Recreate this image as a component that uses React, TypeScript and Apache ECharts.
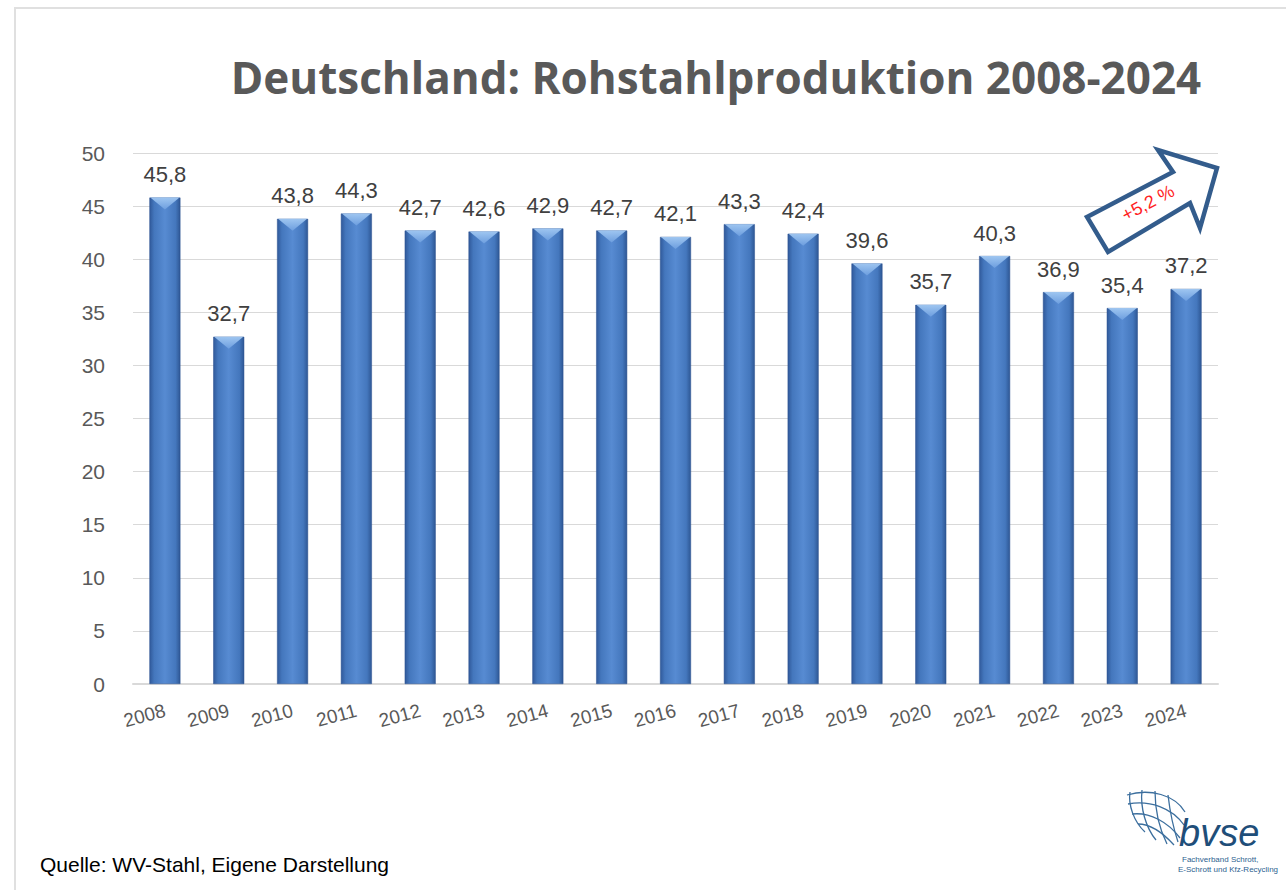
import React, { useEffect, useRef } from "react";
import * as echarts from "echarts";

const years = ["2008","2009","2010","2011","2012","2013","2014","2015","2016","2017","2018","2019","2020","2021","2022","2023","2024"];
const production = [45.8,32.7,43.8,44.3,42.7,42.6,42.9,42.7,42.1,43.3,42.4,39.6,35.7,40.3,36.9,35.4,37.2];
const titleText = "Deutschland: Rohstahlproduktion 2008-2024";
const sourceText = "Quelle: WV-Stahl, Eigene Darstellung";
const changeText = "+5,2 %";

export default function App() {
  const ref = useRef<HTMLDivElement>(null);
  useEffect(() => {
    document.body.style.margin = "0";
    const chart = echarts.init(ref.current!, null, { renderer: "svg" });
    const barGrad = new echarts.graphic.LinearGradient(0, 0, 1, 0, [
      { offset: 0, color: "#30599a" },
      { offset: 0.15, color: "#4477bd" },
      { offset: 0.5, color: "#578bd2" },
      { offset: 0.85, color: "#4477bd" },
      { offset: 1, color: "#2e5794" },
    ]);
    const capGrad = new echarts.graphic.LinearGradient(0, 0, 0, 1, [
      { offset: 0, color: "#a7cdf5" },
      { offset: 1, color: "#6fa0e0" },
    ]);
    chart.setOption({
      animation: false,
      backgroundColor: "#ffffff",
      title: {
        text: titleText,
        left: 711,
        textAlign: "center",
        top: 50,
        textStyle: { fontFamily: "Open Sans", fontWeight: "bold", fontSize: 44, color: "#595959" },
      },
      grid: { left: 133, right: 68, top: 153, bottom: 206 },
      xAxis: {
        type: "category",
        data: years,
        axisLine: { lineStyle: { color: "#d9d9d9", width: 2 } },
        axisTick: { show: false },
        axisLabel: { rotate: 15, fontSize: 19, color: "#595959", fontFamily: "Liberation Sans", margin: 26 },
      },
      yAxis: {
        type: "value",
        min: 0,
        max: 50,
        interval: 5,
        axisLine: { show: false },
        axisTick: { show: false },
        splitLine: { lineStyle: { color: "#d9d9d9", width: 1 } },
        axisLabel: { fontSize: 21, color: "#595959", fontFamily: "Liberation Sans", margin: 28 },
      },
      series: [
        {
          type: "bar",
          data: production,
          barWidth: 31,
          itemStyle: { color: barGrad, borderColor: "#2a5190", borderWidth: 0.5 },
          label: {
            show: true,
            position: "top",
            distance: 12,
            fontSize: 22,
            color: "#404040",
            fontFamily: "Liberation Sans",
            formatter: (p: any) => String(p.value).replace(".", ","),
          },
          z: 2,
        },
        {
          type: "pictorialBar",
          data: production,
          symbol: "path://M0,0 L10,0 L5,4 Z",
          symbolSize: [29, 12],
          symbolPosition: "end",
          symbolOffset: [0, 0],
          itemStyle: { color: capGrad, opacity: 0.9 },
          z: 3,
          silent: true,
        },
      ],
      graphic: [
        {
          type: "rect",
          shape: { x: 15, y: 8, width: 1300, height: 900 },
          style: { fill: "none", stroke: "#e0e0e0", lineWidth: 2 },
          silent: true,
        },
        {
          type: "polygon",
          shape: {
            points: [
              [1087, 217], [1173, 172], [1158, 150], [1217, 168], [1200, 228], [1190, 203], [1108, 252],
            ],
          },
          style: { fill: "#ffffff", stroke: "#335c8c", lineWidth: 4.5, lineJoin: "miter" },
          z: 10,
        },
        {
          type: "text",
          x: 1148,
          y: 203,
          rotation: (28 * Math.PI) / 180,
          style: {
            text: changeText,
            fill: "#ff1f1f",
            fontSize: 18,
            fontFamily: "Liberation Sans",
            align: "center",
            verticalAlign: "middle",
          },
          z: 11,
        },
        {
          type: "text",
          left: 40,
          top: 854,
          style: { text: sourceText, fill: "#000000", fontSize: 21, fontFamily: "Liberation Sans" },
        },
        {
          type: "group",
          x: 0,
          y: 0,
          children: [
            { type: "bezierCurve", shape: { x1: 1127, y1: 795, x2: 1185, y2: 812, cpx1: 1150, cpy1: 788, cpx2: 1175, cpy2: 795 }, style: { stroke: "#3c6f9e", lineWidth: 1.3, fill: "none" } },
            { type: "bezierCurve", shape: { x1: 1128, y1: 804, x2: 1184, y2: 825, cpx1: 1150, cpy1: 800, cpx2: 1172, cpy2: 808 }, style: { stroke: "#3c6f9e", lineWidth: 1.3, fill: "none" } },
            { type: "bezierCurve", shape: { x1: 1132, y1: 814, x2: 1180, y2: 838, cpx1: 1150, cpy1: 812, cpx2: 1168, cpy2: 822 }, style: { stroke: "#3c6f9e", lineWidth: 1.3, fill: "none" } },
            { type: "bezierCurve", shape: { x1: 1138, y1: 824, x2: 1174, y2: 845, cpx1: 1152, cpy1: 824, cpx2: 1164, cpy2: 834 }, style: { stroke: "#3c6f9e", lineWidth: 1.3, fill: "none" } },
            { type: "bezierCurve", shape: { x1: 1130, y1: 792, x2: 1145, y2: 832, cpx1: 1128, cpy1: 805, cpx2: 1134, cpy2: 822 }, style: { stroke: "#3c6f9e", lineWidth: 1.3, fill: "none" } },
            { type: "bezierCurve", shape: { x1: 1142, y1: 790, x2: 1156, y2: 840, cpx1: 1140, cpy1: 808, cpx2: 1146, cpy2: 828 }, style: { stroke: "#3c6f9e", lineWidth: 1.3, fill: "none" } },
            { type: "bezierCurve", shape: { x1: 1155, y1: 791, x2: 1167, y2: 844, cpx1: 1155, cpy1: 810, cpx2: 1160, cpy2: 830 }, style: { stroke: "#3c6f9e", lineWidth: 1.3, fill: "none" } },
            { type: "bezierCurve", shape: { x1: 1168, y1: 795, x2: 1178, y2: 842, cpx1: 1170, cpy1: 812, cpx2: 1174, cpy2: 830 }, style: { stroke: "#3c6f9e", lineWidth: 1.3, fill: "none" } },
          ],
        },
        {
          type: "text",
          x: 1179,
          y: 814,
          style: { text: "bvse", fill: "#1f4e79", fontSize: 38, fontStyle: "italic", fontFamily: "Liberation Sans" },
        },
        {
          type: "text",
          x: 1182,
          y: 855,
          style: { text: "Fachverband Schrott,", fill: "#2e5f8f", fontSize: 8, fontFamily: "Liberation Sans" },
        },
        {
          type: "text",
          x: 1178,
          y: 865,
          style: { text: "E-Schrott und Kfz-Recycling", fill: "#2e5f8f", fontSize: 8, fontFamily: "Liberation Sans" },
        },
      ],
    });
    return () => chart.dispose();
  }, []);
  return <div ref={ref} style={{ width: 1286, height: 890 }} />;
}
